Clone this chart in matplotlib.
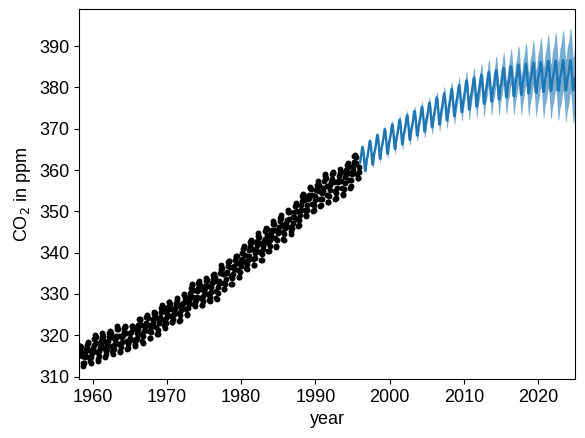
import numpy as np
import matplotlib
matplotlib.use("Agg")
import matplotlib.pyplot as plt

plt.rcParams['font.family'] = ['Liberation Sans', 'DejaVu Sans']
plt.rcParams['font.size'] = 13

# Observed monthly CO2 (ppm), starting March 1958, one value per month
obs_start = 1958 + 2 / 12
co2_obs = [
    315.71, 317.45, 317.50, 317.10, 315.86, 314.93, 313.20, 312.66, 313.33, 314.67,
    315.62, 316.38, 316.71, 317.72, 318.29, 318.15, 316.54, 314.80, 313.84, 313.26, 314.80, 315.58,
    316.43, 316.97, 317.58, 319.02, 320.03, 319.59, 318.18, 315.91, 314.16, 313.83, 315.00, 316.19,
    316.93, 317.70, 318.54, 319.48, 320.58, 319.77, 318.57, 316.79, 314.80, 315.38, 316.10, 317.01,
    317.94, 318.56, 319.68, 320.63, 321.01, 320.55, 319.58, 317.40, 316.26, 315.42, 316.69, 317.69,
    318.74, 319.08, 319.86, 321.39, 322.25, 321.47, 319.74, 317.77, 316.21, 315.99, 317.12, 318.31,
    319.57, 320.07, 320.73, 321.77, 322.25, 321.89, 320.44, 318.70, 316.70, 316.79, 317.79, 318.71,
    319.44, 320.44, 320.89, 322.13, 322.16, 321.87, 321.39, 318.81, 317.81, 317.30, 318.87, 319.42,
    320.62, 321.59, 322.39, 323.87, 324.01, 323.75, 322.39, 320.37, 318.64, 318.10, 319.79, 321.08,
    322.07, 322.50, 323.04, 324.42, 325.00, 324.09, 322.55, 320.92, 319.31, 319.31, 320.72, 321.96,
    322.57, 323.15, 323.89, 325.02, 325.57, 325.36, 324.14, 322.03, 320.41, 320.25, 321.31, 322.84,
    324.00, 324.42, 325.64, 326.66, 327.34, 326.76, 325.88, 323.67, 322.38, 321.78, 322.85, 324.11,
    325.03, 325.99, 326.87, 328.13, 328.07, 327.66, 326.35, 324.69, 323.10, 323.16, 323.98, 325.13,
    326.17, 326.68, 327.18, 327.78, 328.92, 328.57, 327.34, 325.46, 323.36, 323.57, 324.80, 326.01,
    326.77, 327.63, 327.75, 329.72, 330.07, 329.09, 328.05, 326.32, 324.93, 325.06, 326.50, 327.55,
    328.54, 329.56, 330.30, 331.50, 332.48, 332.07, 330.87, 329.31, 327.51, 327.18, 328.16, 328.64,
    329.35, 330.71, 331.48, 332.65, 333.20, 332.16, 331.07, 329.12, 327.32, 327.28, 328.30, 329.58,
    330.73, 331.46, 331.90, 333.17, 333.94, 333.45, 331.97, 329.95, 328.50, 328.34, 329.37, 330.58,
    331.59, 332.75, 333.52, 334.64, 334.77, 334.00, 333.06, 330.68, 328.95, 328.75, 330.15, 331.62,
    332.66, 333.13, 334.95, 336.13, 336.93, 336.17, 334.88, 332.56, 331.29, 331.27, 332.41, 333.60,
    334.95, 335.25, 336.66, 337.69, 338.03, 338.01, 336.41, 334.41, 332.37, 332.41, 333.75, 334.90,
    336.14, 336.69, 338.27, 338.96, 339.21, 339.26, 337.54, 335.75, 333.98, 334.19, 335.31, 336.81,
    337.90, 338.34, 340.01, 340.93, 341.48, 341.33, 339.40, 337.70, 336.19, 336.15, 337.27, 338.32,
    339.29, 340.55, 341.61, 342.53, 343.03, 342.54, 340.78, 338.44, 336.95, 337.08, 338.58, 339.88,
    340.96, 341.73, 342.81, 343.97, 344.63, 343.79, 342.32, 340.09, 338.28, 338.29, 339.60, 340.90,
    341.68, 342.90, 343.33, 345.25, 346.03, 345.63, 344.19, 342.27, 340.35, 340.38, 341.59, 343.05,
    344.10, 344.79, 345.52, 346.84, 347.63, 346.98, 345.53, 343.55, 341.40, 341.67, 343.10, 344.70,
    345.21, 346.16, 347.74, 348.33, 349.06, 348.38, 346.72, 345.02, 343.27, 343.13, 344.49, 345.88,
    346.56, 347.28, 348.01, 349.77, 350.38, 349.93, 348.16, 346.08, 345.22, 344.51, 345.93, 347.22,
    348.52, 348.73, 349.73, 351.31, 352.09, 351.53, 350.11, 348.08, 346.52, 346.59, 347.96, 349.16,
    350.39, 351.64, 352.40, 353.69, 354.21, 353.72, 352.69, 350.40, 348.92, 349.13, 350.20, 351.41,
    352.91, 353.27, 353.96, 355.64, 355.86, 355.37, 353.99, 351.81, 350.05, 350.25, 351.49, 352.85,
    353.80, 355.04, 355.73, 356.32, 357.32, 356.34, 354.84, 353.01, 351.31, 351.62, 353.07, 354.33,
    354.84, 355.73, 357.23, 358.66, 359.13, 358.13, 356.19, 353.85, 352.25, 352.35, 353.81, 355.12,
    356.25, 357.11, 357.86, 359.09, 359.59, 359.33, 357.01, 354.94, 352.96, 353.32, 354.32, 355.57,
    357.00, 357.31, 358.47, 359.27, 360.19, 359.52, 357.33, 355.64, 354.03, 354.12, 355.41, 356.91,
    358.24, 358.92, 359.99, 361.23, 361.65, 360.81, 359.38, 357.46, 355.73, 356.07, 357.53, 358.98,
    359.92, 360.86, 361.83, 363.30, 363.69, 363.19, 361.64, 359.12, 358.17, 357.99, 359.45, 360.68,
]

# Predicted mean (ppm), monthly from January 1996
pred_start = 1996.0
pred_mean = [
    361.8, 362.6, 363.6, 364.9, 365.6, 365.1, 363.7, 361.7, 359.9, 359.8, 361.3, 362.7,
    363.3, 364.1, 365.1, 366.4, 367.1, 366.6, 365.2, 363.2, 361.4, 361.3, 362.8, 364.2,
    364.7, 365.5, 366.5, 367.8, 368.5, 368.0, 366.6, 364.6, 362.8, 362.7, 364.2, 365.6,
    366.2, 367.0, 367.9, 369.2, 369.9, 369.4, 367.8, 365.8, 364.0, 363.9, 365.3, 366.7,
    367.4, 368.2, 369.1, 370.4, 371.1, 370.6, 369.0, 367.0, 365.2, 365.1, 366.5, 367.9,
    368.5, 369.3, 370.2, 371.5, 372.2, 371.7, 370.1, 368.1, 366.3, 366.2, 367.6, 369.0,
    369.6, 370.4, 371.3, 372.6, 373.3, 372.8, 371.2, 369.2, 367.4, 367.3, 368.7, 370.1,
    370.6, 371.4, 372.3, 373.6, 374.3, 373.8, 372.2, 370.2, 368.4, 368.3, 369.7, 371.1,
    371.6, 372.4, 373.3, 374.6, 375.3, 374.8, 373.2, 371.2, 369.4, 369.3, 370.7, 372.1,
    372.6, 373.4, 374.3, 375.6, 376.3, 375.8, 374.2, 372.2, 370.4, 370.3, 371.7, 373.1,
    373.7, 374.6, 375.5, 376.9, 377.6, 377.0, 375.3, 373.1, 371.1, 371.0, 372.4, 373.9,
    374.7, 375.6, 376.5, 377.9, 378.6, 378.0, 376.3, 374.1, 372.1, 372.0, 373.4, 374.9,
    375.7, 376.6, 377.5, 378.9, 379.6, 379.0, 377.3, 375.1, 373.1, 373.0, 374.4, 375.9,
    376.7, 377.6, 378.5, 379.9, 380.6, 380.0, 378.3, 376.1, 374.1, 374.0, 375.4, 376.9,
    377.7, 378.6, 379.5, 381.0, 381.7, 381.1, 379.3, 376.9, 374.7, 374.6, 376.1, 377.7,
    378.4, 379.3, 380.2, 381.7, 382.4, 381.8, 380.0, 377.6, 375.4, 375.3, 376.8, 378.4,
    379.1, 380.0, 380.9, 382.4, 383.1, 382.5, 380.7, 378.3, 376.1, 376.0, 377.5, 379.1,
    379.7, 380.6, 381.5, 383.0, 383.7, 383.1, 381.3, 378.9, 376.7, 376.6, 378.1, 379.7,
    380.2, 381.1, 382.0, 383.5, 384.2, 383.6, 381.8, 379.4, 377.2, 377.1, 378.6, 380.2,
    380.7, 381.6, 382.5, 384.0, 384.7, 384.1, 382.3, 379.9, 377.7, 377.6, 379.1, 380.7,
    381.3, 382.1, 383.0, 384.5, 385.2, 384.5, 382.7, 380.2, 378.0, 377.9, 379.4, 380.9,
    381.6, 382.4, 383.3, 384.8, 385.5, 384.8, 383.0, 380.5, 378.3, 378.2, 379.7, 381.2,
    381.9, 382.7, 383.6, 385.1, 385.8, 385.1, 383.3, 380.8, 378.6, 378.5, 380.0, 381.5,
    382.1, 382.9, 383.8, 385.3, 386.0, 385.3, 383.5, 381.0, 378.8, 378.7, 380.2, 381.7,
    382.3, 383.1, 384.0, 385.5, 386.2, 385.5, 383.7, 381.2, 379.0, 378.9, 380.4, 381.9,
    382.5, 383.3, 384.2, 385.7, 386.4, 385.7, 383.9, 381.4, 379.2, 379.1, 380.6, 382.1,
    382.6, 383.4, 384.3, 385.8, 386.5, 385.8, 384.0, 381.5, 379.3, 379.2, 380.7, 382.2,
    382.7, 383.5, 384.4, 385.9, 386.6, 385.9, 384.1, 381.6, 379.4, 379.3, 380.8, 382.3,
    382.7, 383.5, 384.4, 385.9, 386.6, 385.9, 384.1, 381.6, 379.4, 379.3, 380.8, 382.3,
]

# Predicted standard deviation (ppm), monthly from January 1996
pred_std = [
    0.5, 0.5, 0.5, 0.6, 0.6, 0.6, 0.6, 0.6, 0.6, 0.7, 0.7, 0.7,
    0.7, 0.7, 0.7, 0.7, 0.7, 0.7, 0.8, 0.8, 0.8, 0.8, 0.8, 0.8,
    0.8, 0.8, 0.8, 0.8, 0.8, 0.8, 0.9, 0.9, 0.9, 0.9, 0.9, 0.9,
    0.9, 0.9, 0.9, 0.9, 0.9, 0.9, 1.0, 1.0, 1.0, 1.0, 1.0, 1.0,
    1.0, 1.0, 1.0, 1.0, 1.0, 1.0, 1.1, 1.1, 1.1, 1.1, 1.1, 1.1,
    1.1, 1.1, 1.1, 1.1, 1.1, 1.1, 1.2, 1.2, 1.2, 1.2, 1.2, 1.2,
    1.2, 1.2, 1.2, 1.2, 1.2, 1.2, 1.3, 1.3, 1.3, 1.3, 1.3, 1.3,
    1.3, 1.3, 1.3, 1.3, 1.3, 1.3, 1.4, 1.4, 1.4, 1.4, 1.4, 1.4,
    1.4, 1.4, 1.4, 1.4, 1.4, 1.4, 1.5, 1.5, 1.5, 1.5, 1.5, 1.5,
    1.5, 1.5, 1.5, 1.5, 1.5, 1.5, 1.6, 1.6, 1.6, 1.6, 1.6, 1.6,
    1.6, 1.6, 1.6, 1.6, 1.6, 1.6, 1.7, 1.7, 1.7, 1.7, 1.7, 1.7,
    1.7, 1.7, 1.7, 1.7, 1.8, 1.8, 1.8, 1.8, 1.9, 1.9, 1.9, 1.9,
    1.9, 1.9, 1.9, 1.9, 1.9, 1.9, 2.0, 2.0, 2.0, 2.0, 2.0, 2.0,
    2.0, 2.0, 2.0, 2.1, 2.1, 2.1, 2.1, 2.1, 2.1, 2.2, 2.2, 2.2,
    2.2, 2.2, 2.2, 2.2, 2.3, 2.3, 2.3, 2.3, 2.4, 2.4, 2.4, 2.4,
    2.4, 2.4, 2.4, 2.4, 2.5, 2.5, 2.5, 2.5, 2.6, 2.6, 2.6, 2.7,
    2.7, 2.7, 2.8, 2.8, 2.8, 2.9, 2.9, 2.9, 3.0, 3.0, 3.0, 3.0,
    3.1, 3.1, 3.1, 3.1, 3.2, 3.2, 3.2, 3.2, 3.3, 3.3, 3.3, 3.4,
    3.4, 3.4, 3.5, 3.5, 3.5, 3.6, 3.6, 3.6, 3.7, 3.7, 3.7, 3.8,
    3.8, 3.8, 3.9, 3.9, 3.9, 4.0, 4.0, 4.0, 4.1, 4.1, 4.1, 4.2,
    4.2, 4.2, 4.3, 4.3, 4.3, 4.4, 4.4, 4.4, 4.5, 4.5, 4.5, 4.6,
    4.6, 4.6, 4.7, 4.7, 4.7, 4.8, 4.8, 4.8, 4.9, 4.9, 4.9, 5.0,
    5.0, 5.0, 5.1, 5.1, 5.1, 5.2, 5.2, 5.2, 5.3, 5.3, 5.3, 5.4,
    5.4, 5.4, 5.5, 5.5, 5.5, 5.6, 5.6, 5.7, 5.7, 5.7, 5.8, 5.8,
    5.9, 5.9, 6.0, 6.0, 6.0, 6.1, 6.1, 6.2, 6.2, 6.3, 6.3, 6.3,
    6.4, 6.4, 6.5, 6.5, 6.5, 6.6, 6.6, 6.7, 6.7, 6.7, 6.8, 6.8,
    6.8, 6.9, 6.9, 6.9, 7.0, 7.0, 7.0, 7.1, 7.1, 7.2, 7.2, 7.2,
    7.3, 7.3, 7.3, 7.4, 7.4, 7.5, 7.5, 7.5, 7.6, 7.6, 7.7, 7.7,
    7.7, 7.7, 7.8, 7.8, 7.9, 7.9, 7.9, 8.0, 8.0, 8.0, 8.1, 8.1,
]

x_ticks = [1960, 1970, 1980, 1990, 2000, 2010, 2020]
y_ticks = [310, 320, 330, 340, 350, 360, 370, 380, 390]

obs_y = np.array(co2_obs)
obs_x = obs_start + np.arange(len(obs_y)) / 12
pm = np.array(pred_mean)
ps = np.array(pred_std)
pred_x = pred_start + np.arange(len(pm)) / 12

fig = plt.figure(figsize=(5.85, 4.38), dpi=100)
ax = fig.add_axes([0.135, 0.1347, 0.848, 0.844])

ax.scatter(obs_x, obs_y, c='k', s=18, linewidths=0)
ax.plot(pred_x, pm, color='#1f77b4', lw=1.7)
ax.fill_between(pred_x, pm - ps, pm + ps, color='#1f77b4', alpha=0.6, linewidth=0)

ax.set_xlim(obs_start, 2024.95)
ax.set_ylim(309.4, 398.9)
ax.set_xticks(x_ticks)
ax.set_yticks(y_ticks)
ax.set_xlabel('year')
ax.set_ylabel('CO$_2$ in ppm')

fig.savefig('out.png', dpi=100)
